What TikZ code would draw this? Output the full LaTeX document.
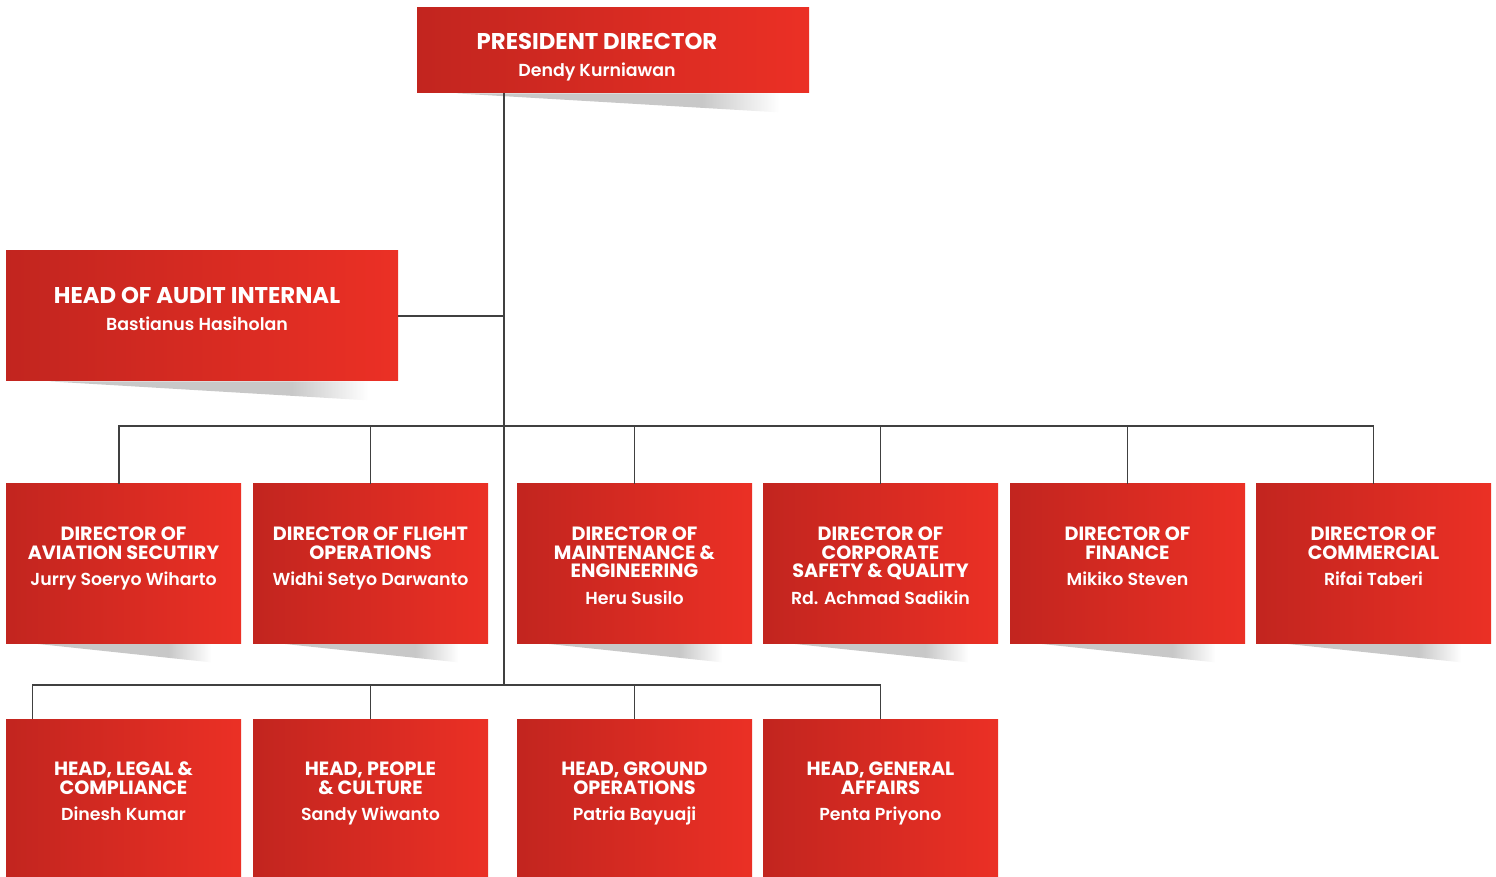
\documentclass[tikz,border=0pt]{standalone}
\usepackage{fontspec}
\setsansfont{Poppins}
\newfontfamily\namefam{Poppins}[UprightFont={* SemiBold}, BoldFont={* SemiBold}]
\usetikzlibrary{positioning,calc,backgrounds}

\definecolor{orgredL}{RGB}{194,37,31}
\definecolor{orgredR}{RGB}{235,48,37}
\definecolor{shadowgray}{RGB}{200,200,200}
\pgfdeclarehorizontalshading{shadowfade}{100bp}{color(0bp)=(shadowgray); color(63bp)=(shadowgray); color(75bp)=(white); color(100bp)=(white)}

\newcommand{\namefont}{\namefam\fontsize{8.7}{10}\selectfont}
\newcommand{\orgtext}[3][4pt]{#2\\[#1]{\namefont #3}}

\tikzset{
  orgbox/.style = {rectangle, left color = orgredL, right color = orgredR, draw = none, inner sep = 0pt},
  topbox/.style = {orgbox, minimum width = 196pt},
  unitbox/.style = {orgbox, minimum width = 117.5pt, minimum height = 79.5pt},
  toptext/.style = {text = white, align = center, inner sep = 0pt,
                    font = \sffamily\bfseries\fontsize{11.4}{12}\selectfont},
  unittext/.style = {text = white, align = center, inner sep = 0pt,
                     font = \sffamily\bfseries\fontsize{9.6}{9.4}\selectfont},
  link/.style = {draw = black!75, line width = 0.7pt}
}

\begin{document}
\begin{tikzpicture}[x=0.5pt, y=-0.5pt]
\useasboundingbox (0,0) rectangle (1496,877);

% top of the chart
\node[topbox, minimum height = 42.5pt] (pres) at (613,50.5) {};
\node[topbox, minimum height = 65pt] (audit) at (202,316) {};
\node[toptext, below = 12.8pt of pres.north, xshift = -8pt] (prestxt) {\orgtext[1.5pt]{PRESIDENT DIRECTOR}{Dendy Kurniawan}};
\node[toptext, below = 18.3pt of audit.north, xshift = -2.5pt] (audittxt) {\orgtext[1.5pt]{HEAD OF AUDIT INTERNAL}{Bastianus Hasiholan}};

% directors
\foreach \n/\x in {d1/123.5,d2/370.5,d3/634.5,d4/880.5,d5/1127.5,d6/1373.5}
  \node[unitbox] (\n) at (\x,563.5) {};
\node[unittext, below = 21.3pt of d1.north] (d1txt) {\orgtext{DIRECTOR OF\\AVIATION SECUTIRY}{Jurry Soeryo Wiharto}};
\node[unittext, below = 21.3pt of d2.north] (d2txt) {\orgtext{DIRECTOR OF FLIGHT\\OPERATIONS}{Widhi Setyo Darwanto}};
\node[unittext, below = 21.3pt of d3.north] (d3txt) {\orgtext{DIRECTOR OF\\MAINTENANCE \&\\ENGINEERING}{Heru Susilo}};
\node[unittext, below = 21.3pt of d4.north] (d4txt) {\orgtext{DIRECTOR OF\\CORPORATE\\SAFETY \& QUALITY}{Rd. Achmad Sadikin}};
\node[unittext, below = 21.3pt of d5.north] (d5txt) {\orgtext{DIRECTOR OF\\FINANCE}{Mikiko Steven}};
\node[unittext, below = 21.3pt of d6.north] (d6txt) {\orgtext{DIRECTOR OF\\COMMERCIAL}{Rifai Taberi}};

% heads
\foreach \n/\x in {h1/123.5,h2/370.5,h3/634.5,h4/880.5}
  \node[unitbox] (\n) at (\x,798.5) {};
\node[unittext, below = 21.3pt of h1.north] (h1txt) {\orgtext{HEAD, LEGAL \&\\COMPLIANCE}{Dinesh Kumar}};
\node[unittext, below = 21.3pt of h2.north] (h2txt) {\orgtext{HEAD, PEOPLE\\\& CULTURE}{Sandy Wiwanto}};
\node[unittext, below = 21.3pt of h3.north] (h3txt) {\orgtext{HEAD, GROUND\\OPERATIONS}{Patria Bayuaji}};
\node[unittext, below = 21.3pt of h4.north] (h4txt) {\orgtext{HEAD, GENERAL\\AFFAIRS}{Penta Priyono}};

% shadows under the boxes
\begin{scope}[on background layer]
\foreach \b/\l in {pres/40,audit/44,d1/27,d2/27,d3/27,d4/27,d5/27,d6/27}
  \shade[shading = shadowfade] ($(\b.south west)+(\l,0)$) -- ($(\b.south east)+(-30,0)$)
        -- ($(\b.south east)+(-30,19)$) -- cycle;
\end{scope}

% connectors
\coordinate (bus1) at (504,426);
\coordinate (bus2) at (504,685);
\coordinate (h1top) at ($(h1.north west)+(27,0)$);
\draw[link] (pres.south -| bus1) -- (bus2);
\draw[link] (audit.east) -- (audit.east -| bus1);
\draw[link] ($(d1.north)+(-4.5,0)$) |- (d6.north |- bus1) -- (d6.north);
\foreach \d in {d2,d3,d4,d5}
  \draw[link] (\d.north |- bus1) -- (\d.north);
\draw[link] (h1top) |- (h4.north |- bus2) -- (h4.north);
\foreach \h in {h2,h3}
  \draw[link] (\h.north |- bus2) -- (\h.north);
\end{tikzpicture}
\end{document}
